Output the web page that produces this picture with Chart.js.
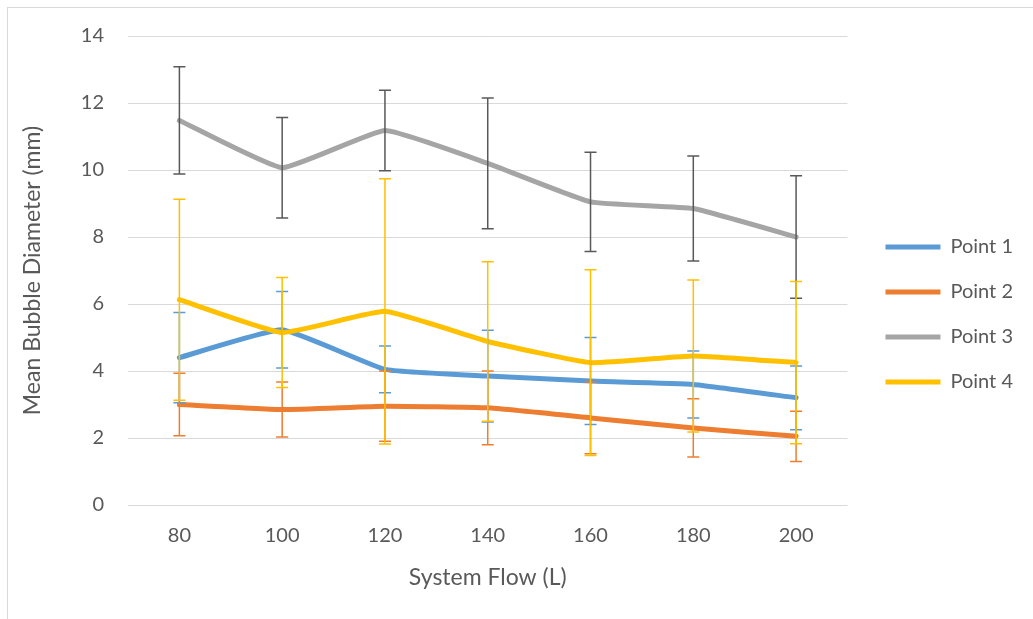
<!DOCTYPE html>
<html lang="en">
<head>
    <meta charset="UTF-8">
    <title>Mean Bubble Diameter vs System Flow</title>
    <style>
        body {
            margin: 0;
            padding: 0;
            background-color: #fff;
        }
        #wrap {
            width: 1033px;
            height: 619px;
        }
    </style>
</head>
<body>
    <div id="wrap">
        <canvas id="bubbleChart" width="1033" height="619"></canvas>
    </div>

    <script src="https://cdn.jsdelivr.net/npm/chart.js"></script>
<script>
    // values
    const flows = ['80', '100', '120', '140', '160', '180', '200'];

    const point1 = [4.40, 5.23, 4.05, 3.85, 3.70, 3.60, 3.20];
    const point1Err = [1.35, 1.14, 0.70, 1.37, 1.30, 1.00, 0.95];

    const point2 = [3.00, 2.85, 2.95, 2.90, 2.60, 2.30, 2.05];
    const point2Err = [0.93, 0.82, 1.05, 1.10, 1.07, 0.87, 0.75];

    const point3 = [11.48, 10.07, 11.18, 10.20, 9.05, 8.85, 8.00];
    const point3Err = [1.60, 1.50, 1.20, 1.95, 1.48, 1.57, 1.83];

    const point4 = [6.13, 5.15, 5.78, 4.88, 4.25, 4.45, 4.25];
    const point4Err = [3.00, 1.64, 3.96, 2.38, 2.77, 2.27, 2.42];

    const yTicks = [0, 2, 4, 6, 8, 10, 12, 14];

    const textColor = '#595959';
    const gridColor = '#d9d9d9';

    function makeSeries(label, data, err, color, barColor, order) {
        return {
            label: label,
            data: data,
            errors: err,
            errorColor: barColor,
            borderColor: color,
            backgroundColor: color,
            borderWidth: 5,
            borderCapStyle: 'round',
            borderJoinStyle: 'round',
            tension: 0.12,
            pointRadius: 0,
            pointHoverRadius: 0,
            fill: false,
            order: order
        };
    }

    // vertical error bars, placed with the chart's own scales
    const errorBars = {
        id: 'errorBars',
        afterDatasetsDraw(chart) {
            const ctx = chart.ctx;
            const xs = chart.scales.x;
            const ys = chart.scales.y;
            chart.data.datasets.forEach((ds) => {
                ctx.save();
                ctx.strokeStyle = ds.errorColor;
                ctx.lineWidth = 1.5;
                ds.data.forEach((v, j) => {
                    const x = xs.getPixelForValue(j);
                    const top = ys.getPixelForValue(v + ds.errors[j]);
                    const bot = ys.getPixelForValue(v - ds.errors[j]);
                    ctx.beginPath();
                    ctx.moveTo(x, top);
                    ctx.lineTo(x, bot);
                    ctx.moveTo(x - 6, top);
                    ctx.lineTo(x + 6, top);
                    ctx.moveTo(x - 6, bot);
                    ctx.lineTo(x + 6, bot);
                    ctx.stroke();
                });
                ctx.restore();
            });
        }
    };

    const chartFrame = {
        id: 'chartFrame',
        beforeDraw(chart) {
            const ctx = chart.ctx;
            ctx.save();
            ctx.fillStyle = '#fff';
            ctx.fillRect(0, 0, chart.width, chart.height);
            ctx.strokeStyle = gridColor;
            ctx.lineWidth = 1;
            ctx.strokeRect(7.5, 7.5, 1100, 700);
            ctx.restore();
        }
    };

    function plotChart() {
        const ctx = document.getElementById('bubbleChart').getContext('2d');
        new Chart(ctx, {
            type: 'line',
            data: {
                labels: flows,
                datasets: [
                    makeSeries('Point 1', point1, point1Err, '#5B9BD5', '#5B9BD5', 4),
                    makeSeries('Point 2', point2, point2Err, '#ED7D31', '#ED7D31', 3),
                    makeSeries('Point 3', point3, point3Err, '#A5A5A5', '#595959', 2),
                    makeSeries('Point 4', point4, point4Err, '#FFC000', '#FFC000', 1)
                ]
            },
            options: {
                responsive: false,
                animation: false,
                layout: {
                    padding: {top: 36, left: 0, right: 10, bottom: 26}
                },
                plugins: {
                    tooltip: {enabled: false},
                    legend: {
                        position: 'right',
                        reverse: true,
                        labels: {
                            usePointStyle: true,
                            pointStyle: 'line',
                            pointStyleWidth: 55,
                            padding: 25,
                            color: textColor,
                            font: {family: 'Lato', size: 20}
                        }
                    }
                },
                scales: {
                    x: {
                        offset: true,
                        grid: {display: false},
                        border: {display: false},
                        ticks: {
                            color: textColor,
                            padding: 11,
                            font: {family: 'Lato', size: 20}
                        },
                        title: {
                            display: true,
                            text: 'System Flow (L)',
                            color: textColor,
                            font: {family: 'Lato', size: 23},
                            padding: {top: 0, bottom: 2}
                        },
                        afterFit(scale) {
                            scale.height = 88;
                        }
                    },
                    y: {
                        min: 0,
                        max: 14,
                        afterBuildTicks(scale) {
                            scale.ticks = yTicks.map(v => ({value: v}));
                        },
                        grid: {
                            color: gridColor,
                            lineWidth: 1,
                            drawTicks: false
                        },
                        border: {display: false},
                        ticks: {
                            color: textColor,
                            padding: 24,
                            font: {family: 'Lato', size: 20}
                        },
                        title: {
                            display: true,
                            text: 'Mean Bubble Diameter (mm)',
                            color: textColor,
                            font: {family: 'Lato', size: 23},
                            padding: {top: 19, bottom: 0}
                        },
                        afterFit(scale) {
                            scale.width = 128;
                        }
                    },
                    gap: {
                        position: 'right',
                        display: true,
                        grid: {display: false},
                        border: {display: false},
                        ticks: {display: false},
                        afterFit(scale) {
                            scale.width = 13;
                        }
                    }
                }
            },
            plugins: [chartFrame, errorBars]
        });
    }

    plotChart();
</script>
</body>
</html>
